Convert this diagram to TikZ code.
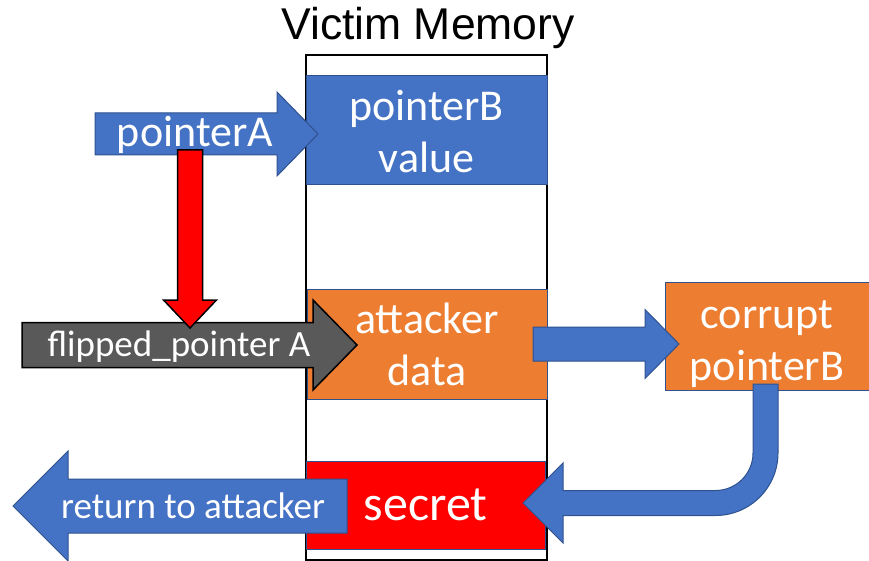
\documentclass[tikz,border=0pt]{standalone}
\usepackage{fontspec}
\setmainfont{Carlito}
\newfontfamily\arialfont{Liberation Sans}
\usetikzlibrary{positioning}
\definecolor{memblue}{HTML}{4472C4}
\definecolor{memorange}{HTML}{ED7D31}
\definecolor{memedge}{HTML}{2F528F}
\definecolor{memgrey}{HTML}{595959}

\begin{document}
\begin{tikzpicture}[x=1pt, y=-1pt,
  cell/.style={draw=memedge, line width=1pt, text=white, align=center,
    inner sep=0pt, font=\fontsize{44}{52}\selectfont},
  bluearrow/.style={draw=memedge, fill=memblue, line width=1pt},
  arrowtext/.style={text=white, anchor=base, inner sep=0pt,
    font=\fontsize{37}{44}\selectfont}]

  \useasboundingbox (0,0) rectangle (869,561);

  % memory column and title
  \node[draw, line width=1.5pt, minimum width=241pt, minimum height=505pt,
    inner sep=0pt] (mem) at (426.5,307.5) {};
  \node[anchor=base, inner sep=0pt, font=\arialfont\fontsize{44.5}{50}\selectfont]
    (title) at (428,40) {Victim Memory};

  % memory cells
  \node[cell, fill=memblue, minimum width=241pt, minimum height=109pt]
    (value) at (426.5,130.5) {\rule{0pt}{33pt}pointerB\\value};
  \node[cell, fill=memorange, minimum width=240pt, minimum height=110pt]
    (data) at (427,344) {attacker\\data};
  \node[cell, fill=memorange, minimum width=204pt, minimum height=108pt]
    (corrupt) at (767,336) {\rule{0pt}{45pt}corrupt\\pointerB};
  \node[cell, fill=red, minimum width=239pt, minimum height=88pt,
    font=\fontsize{50}{60}\selectfont] (secret) at (425.5,505) {secret};

  % arrow tips
  \coordinate (pa tip) at (318,134);
  \coordinate (flip tip) at (357,345);
  \coordinate (bit tip) at (190,328);
  \coordinate (data tip) at (679,344);
  \coordinate (ret tip) at (13,506);

  % block arrows
  \filldraw[bluearrow] (pa tip) -- ++(-41,-42) -- ++(0,21) -- ++(-182,0)
    -- ++(0,42) -- ++(182,0) -- ++(0,21) -- cycle;
  \filldraw[draw=black, fill=memgrey, line width=1.5pt] (flip tip) -- ++(-44,-45)
    -- ++(0,22.5) -- ++(-291,0) -- ++(0,45) -- ++(291,0) -- ++(0,22.5) -- cycle;
  \filldraw[draw=black, fill=red, line width=1.5pt] (bit tip) -- ++(-26.5,-28)
    -- ++(14,0) -- ++(0,-150) -- ++(25,0) -- ++(0,150) -- ++(14,0) -- cycle;
  \filldraw[bluearrow] (data tip) -- ++(-34,-34.5) -- ++(0,17.5) -- ++(-112,0)
    -- ++(0,34) -- ++(112,0) -- ++(0,17.5) -- cycle;
  \filldraw[bluearrow] (753,384) -- (778,384) -- (778,453)
    arc[start angle=0, end angle=90, radius=62.5] -- (563,515.5) -- (563,543)
    -- (523,503) -- (563,463) -- (563,490.5) -- (715.5,490.5)
    arc[start angle=90, end angle=0, radius=37.5] -- cycle;
  \filldraw[bluearrow] (ret tip) -- ++(55,-55) -- ++(0,28) -- ++(279,0)
    -- ++(0,54) -- ++(-279,0) -- ++(0,28) -- cycle;

  % arrow labels
  \node[arrowtext, font=\fontsize{44}{52}\selectfont] (pointerA) at (195,147) {pointerA};
  \node[arrowtext] (flipped) at (179,356) {flipped\_pointer A};
  \node[arrowtext] (return) at (193,518) {return to attacker};
\end{tikzpicture}
\end{document}
